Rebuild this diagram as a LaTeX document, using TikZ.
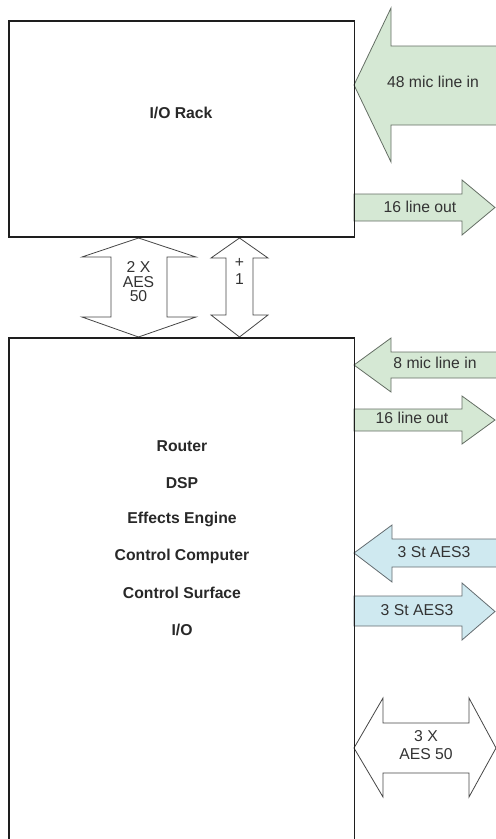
\documentclass[tikz,border=0pt]{standalone}
\usepackage{fontspec}
\setmainfont{Liberation Sans}

\tikzset{every picture/.style={line width=0.75pt}}
\tikzset{
  greenarr/.style={draw={rgb, 255:red, 100; green, 110; blue, 100 }, fill={rgb, 255:red, 213; green, 232; blue, 212 }, line width=0.6pt},
  bluearr/.style={draw={rgb, 255:red, 100; green, 108; blue, 112 }, fill={rgb, 255:red, 207; green, 233; blue, 240 }, line width=0.6pt},
  whitearr/.style={draw={rgb, 255:red, 70; green, 70; blue, 70 }, fill=white, line width=0.6pt},
  unitbox/.style={draw={rgb, 255:red, 30; green, 30; blue, 30 }, line width=1.1pt},
  boxtxt/.style={font=\fontsize{11.8}{13}\selectfont\bfseries, text={rgb, 255:red, 40; green, 40; blue, 40 }},
  lbl/.style={font=\fontsize{11.8}{13}\selectfont, text={rgb, 255:red, 51; green, 51; blue, 51 }, inner sep=0pt}
}

\begin{document}
\begin{tikzpicture}[x=0.75pt,y=0.75pt,yscale=-1,xscale=1]
	\clip (0,0) rectangle (496,839); %picture is 496 wide, 839 high

	%Shape: Left Arrow (48 mic)
	\draw [greenarr] (354,85) -- (391,8) -- (391,46) -- (512,46) -- (512,125) -- (391,125) -- (391,162) -- cycle ;
	%Shape: Right Arrow (16 out, rack)
	\draw [greenarr] (354,194) -- (462,194) -- (462,180) -- (495,207.5) -- (462,235) -- (462,221) -- (354,221) -- cycle ;
	%Shape: Left Arrow (8 mic)
	\draw [greenarr] (354,365) -- (391,338) -- (391,352) -- (512,352) -- (512,378) -- (391,378) -- (391,392) -- cycle ;
	%Shape: Right Arrow (16 out, desk)
	\draw [greenarr] (354,409) -- (462,409) -- (462,396) -- (495,420) -- (462,444) -- (462,431) -- (354,431) -- cycle ;
	%Shape: Left Arrow (AES3 in)
	\draw [bluearr] (354,553) -- (392,525) -- (392,539) -- (512,539) -- (512,567) -- (392,567) -- (392,582) -- cycle ;
	%Shape: Right Arrow (AES3 out)
	\draw [bluearr] (354,596) -- (462,596) -- (462,583) -- (495,611.5) -- (462,640) -- (462,626) -- (354,626) -- cycle ;
	%Shape: Double Arrow (3 X AES 50)
	\draw [whitearr] (354,748) -- (383,698) -- (383,723) -- (469,723) -- (469,698) -- (496,748) -- (469,797) -- (469,773) -- (383,773) -- (383,797) -- cycle ;
	%Shape: Up Down Arrow (2 X AES 50)
	\draw [whitearr] (138.5,238) -- (196,257) -- (167,257) -- (167,317) -- (196,317) -- (138.5,337) -- (82,317) -- (111,317) -- (111,257) -- (82,257) -- cycle ;
	%Shape: Up Down Arrow (+1)
	\draw [whitearr] (239.5,238) -- (268,258) -- (253,258) -- (253,315) -- (268,315) -- (239.5,337) -- (211,315) -- (226,315) -- (226,258) -- (211,258) -- cycle ;

	%Shape: Rectangle (rack)
	\draw [unitbox] (9,21) -- (354.5,21) -- (354.5,237) -- (9,237) -- cycle ;
	%Shape: Rectangle (desk)
	\draw [unitbox] (9,338) -- (354.5,338) -- (354.5,850) -- (9,850) -- cycle ;

	% Text Node
	\draw (181,113) node (rack) [boxtxt] {I/O Rack};
	% Text Node
	\draw (182,446) node (router) [boxtxt] {Router};
	% Text Node
	\draw (182,483) node (dsp) [boxtxt] {DSP};
	% Text Node
	\draw (182,519) node (fx) [boxtxt] {Effects Engine};
	% Text Node
	\draw (182,556) node (cpu) [boxtxt] {Control Computer};
	% Text Node
	\draw (182,593) node (surf) [boxtxt] {Control Surface};
	% Text Node
	\draw (182,630) node (io) [boxtxt] {I/O};
	% Text Node
	\draw (433,82) node (micA) [lbl] {48 mic line in};
	% Text Node
	\draw (420,207) node (outA) [lbl] {16 line out};
	% Text Node
	\draw (435,363) node (micB) [lbl] {8 mic line in};
	% Text Node
	\draw (412,418) node (outB) [lbl] {16 line out};
	% Text Node
	\draw (434,552) node (aesin) [lbl] {3 St AES3};
	% Text Node
	\draw (417,610) node (aesout) [lbl] {3 St AES3};
	% Text Node
	\draw (426,745) node (aesc) [lbl, align=center, font=\fontsize{11.8}{13.5}\selectfont] {3 X\\AES 50};
	% Text Node
	\draw (138.5,282) node (aesa) [lbl, align=center, font=\fontsize{11.8}{10.9}\selectfont] {2 X\\AES\\50};
	% Text Node
	\draw (239.5,271) node (aesb) [lbl, align=center, font=\fontsize{11.8}{12.8}\selectfont] {+\\1};

\end{tikzpicture}
\end{document}
